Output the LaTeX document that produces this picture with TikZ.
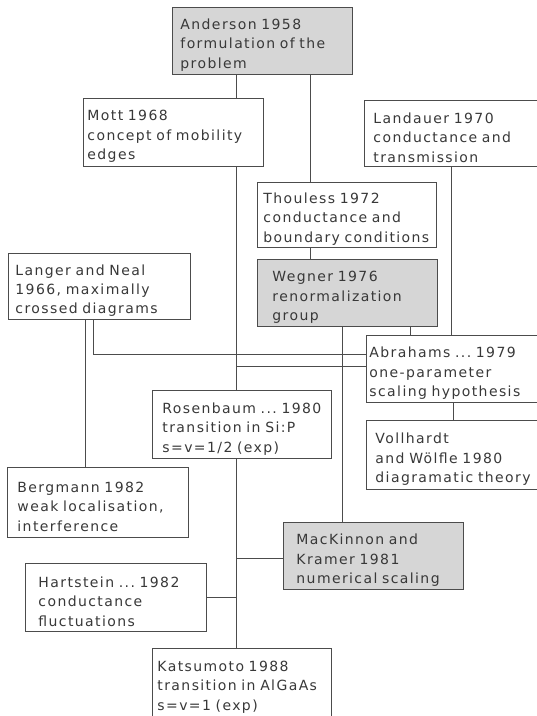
\documentclass[tikz,border=0pt]{standalone}
\usepackage{fontspec}
\setmainfont{DejaVu Sans}[LetterSpace=10]
\usepackage{tikz}
\usetikzlibrary{positioning}

\begin{document}
\begin{tikzpicture}[
  x=1pt, y=-1pt,
  font=\fontsize{14}{19.5}\selectfont,
  entry/.style={draw=black!70, line width=0.9pt, anchor=north west, align=left,
                text=black!78, minimum height=67pt, inner ysep=0pt,
                execute at begin node={\rule{0pt}{19pt}}},
  key/.style={fill=black!16},
  link/.style={draw=black!70, line width=0.9pt}
]
  \useasboundingbox (0,0) rectangle (537,716);

  % boxes
  \node[entry, key, text width=164pt, inner xsep=8pt] (and) at (172,7)
    {Anderson 1958\\formulation of the\\problem};
  \node[entry, text width=172pt, inner xsep=4pt, minimum height=68pt] (mott) at (83,98)
    {Mott 1968\\concept of mobility\\edges};
  \node[entry, text width=158pt, inner xsep=9pt, minimum height=66pt] (land) at (364,100)
    {Landauer 1970\\conductance and\\transmission};
  \node[entry, text width=167pt, inner xsep=6pt, minimum height=65pt] (thou) at (257,182)
    {Thouless 1972\\conductance and\\boundary conditions};
  \node[entry, key, text width=150pt, inner xsep=15pt] (weg) at (257,259)
    {Wegner 1976\\renormalization\\group};
  \node[entry, text width=168pt, inner xsep=7pt, minimum height=66pt] (lang) at (8,253)
    {Langer and Neal\\1966, maximally\\crossed diagrams};
  \node[entry, text width=168pt, inner xsep=3pt] (abr) at (366,335)
    {Abrahams~...~1979\\one-parameter\\scaling hypothesis};
  \node[entry, text width=162pt, inner xsep=9pt, minimum height=69pt] (voll) at (366,420)
    {Vollhardt\\and Wölfle 1980\\diagramatic theory};
  \node[entry, text width=159pt, inner xsep=10pt, minimum height=68pt] (rosen) at (152,390)
    {Rosenbaum~...~1980\\transition in Si:P\\s=v=1/2 (exp)};
  \node[entry, text width=161pt, inner xsep=10pt, minimum height=70pt] (berg) at (7,467)
    {Bergmann 1982\\weak localisation,\\interference};
  \node[entry, text width=155pt, inner xsep=13pt, minimum height=68pt] (hart) at (25,563)
    {Hartstein~...~1982\\conductance\\fluctuations};
  \node[entry, key, text width=154pt, inner xsep=13pt] (mack) at (283,522)
    {MacKinnon and\\Kramer 1981\\numerical scaling};
  \node[entry, text width=169pt, inner xsep=5pt, minimum height=68pt] (kats) at (152,648)
    {Katsumoto 1988\\transition~in~AlGaAs\\s=v=1 (exp)};

  % x positions of the vertical links
  \coordinate (trunk) at (236,0);
  \coordinate (xthou) at (310,0);
  \coordinate (xland) at (451,0);
  \coordinate (xmack) at (342,0);
  \coordinate (xabr)  at (410,0);
  \coordinate (xberg) at (85,0);
  \coordinate (xlang) at (93,0);
  \coordinate (xvoll) at (453,0);

  \draw[link] (and.south -| trunk) -- (mott.north -| trunk);
  \draw[link] (mott.south -| trunk) -- (rosen.north -| trunk);
  \draw[link] (rosen.south -| trunk) -- (kats.north -| trunk);
  \draw[link] (and.south -| xthou) -- (thou.north -| xthou);
  \draw[link] (thou.south -| xthou) -- (weg.north -| xthou);
  \draw[link] (land.south -| xland) -- (abr.north -| xland);
  \draw[link] (weg.south -| xmack) -- (mack.north -| xmack);
  \draw[link] (weg.south -| xabr) -- (abr.north -| xabr);
  \draw[link] (lang.south -| xberg) -- (berg.north -| xberg);
  \draw[link] (lang.south -| xlang) |- ([yshift=-19pt]abr.north west);
  \draw[link] ([yshift=-31pt]abr.north west -| trunk) -- ([yshift=-31pt]abr.north west);
  \draw[link] (abr.south -| xvoll) -- (voll.north -| xvoll);
  \draw[link] (hart.east) -- (hart.east -| trunk);
  \draw[link] ([yshift=-36pt]mack.north west) -- ([yshift=-36pt]mack.north west -| trunk);
\end{tikzpicture}
\end{document}
